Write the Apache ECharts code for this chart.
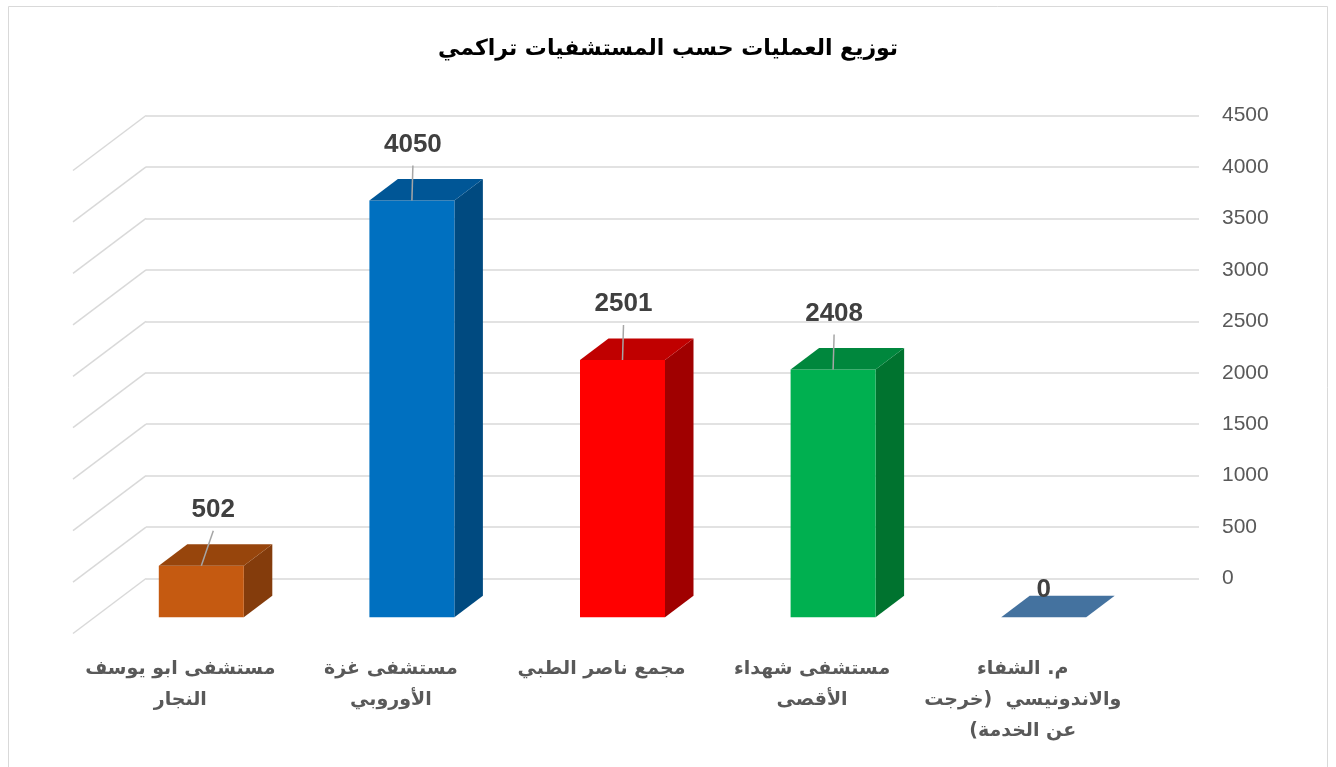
<!DOCTYPE html>
<html>
<head>
<meta charset="utf-8">
<script src="https://cdn.jsdelivr.net/npm/echarts@6/dist/echarts.min.js"></script>
<style>
html,body{margin:0;padding:0;background:#fff;}
#chart{width:1336px;height:767px;}
</style>
</head>
<body>
<div id="chart"></div>
<script>
// ---- data ----
const title = 'توزيع العمليات حسب المستشفيات تراكمي';
const categories = [
  'مستشفى ابو يوسف\nالنجار',
  'مستشفى غزة\nالأوروبي',
  'مجمع ناصر الطبي',
  'مستشفى شهداء\nالأقصى',
  'م. الشفاء\nوالاندونيسي  (خرجت\nعن الخدمة)'
];
const values = [502, 4050, 2501, 2408, 0];
const yTicks = [0, 500, 1000, 1500, 2000, 2500, 3000, 3500, 4000, 4500];
const frontColors = ['#C55A11', '#0070C0', '#FF0000', '#00B050', '#4F81BD'];
const topColors   = ['#97450C', '#005696', '#C00000', '#00873D', '#44729F'];
const sideColors  = ['#843C0C', '#004A80', '#A00000', '#00732F', '#3A6388'];

// ---- geometry (pixels) ----
const FRONT_DX = -50, FRONT_DY = 38.8;   // back wall -> bar front plane
const DEPTH_DX = 28.5, DEPTH_DY = -21.5; // bar depth
const WALL_DX = -73, WALL_DY = 55;       // side wall depth
const BAR_RATIO = 85 / 210.6;
const LABEL_DX = -71, LABEL_Y = 654;

// render each label line as a right-to-left paragraph
const RLM = '\u200F';
function rtlLines(s) {
  return s.split('\n').map(line => RLM + line + RLM).join('\n');
}

const chart = echarts.init(document.getElementById('chart'));

function renderBar(params, api) {
  const i = api.value(0), v = api.value(1);
  const top = api.coord([i, v]);
  const base = api.coord([i, 0]);
  const bw = api.size([1, 0])[0] * BAR_RATIO;
  const cx = top[0] + FRONT_DX;
  const x0 = cx - bw / 2, x1 = cx + bw / 2;
  const yT = top[1] + FRONT_DY, yB = base[1] + FRONT_DY;
  const children = [];
  if (yB - yT > 0.5) {
    children.push({type: 'polygon', shape: {points: [[x1, yT], [x1 + DEPTH_DX, yT + DEPTH_DY], [x1 + DEPTH_DX, yB + DEPTH_DY], [x1, yB]]}, style: {fill: sideColors[i]}});
    children.push({type: 'rect', shape: {x: x0, y: yT, width: bw, height: yB - yT}, style: {fill: frontColors[i]}});
  }
  children.push({type: 'polygon', shape: {points: [[x0, yT], [x0 + DEPTH_DX, yT + DEPTH_DY], [x1 + DEPTH_DX, yT + DEPTH_DY], [x1, yT]]}, style: {fill: topColors[i]}});
  const lblFont = 'bold 26px "Liberation Sans", Arial, sans-serif';
  if (v > 0) {
    const short = (yB - yT) < 80;
    const lx = short ? cx + 12 : cx + 1;
    children.push({type: 'line', shape: {x1: cx, y1: yT, x2: lx, y2: yT - 35}, style: {stroke: '#A6A6A6', lineWidth: 1.5}});
    children.push({type: 'text', style: {text: String(v), x: lx, y: yT - 56, align: 'center', verticalAlign: 'middle', font: lblFont, fill: '#404040'}});
  } else {
    children.push({type: 'text', style: {text: String(v), x: cx, y: yT - 27, align: 'center', verticalAlign: 'middle', font: lblFont, fill: '#404040'}});
  }
  const bc = api.coord([i, 0]);
  children.push({type: 'text', style: {text: rtlLines(categories[i]), x: bc[0] + LABEL_DX, y: LABEL_Y, align: 'center', verticalAlign: 'top', font: 'bold 19px "DejaVu Sans", sans-serif', lineHeight: 31, fill: '#595959'}});
  return {type: 'group', children: children};
}

function renderWall(params, api) {
  const p = api.coord([0, api.value(0)]);
  const x = params.coordSys.x;
  return {type: 'line', shape: {x1: x, y1: p[1], x2: x + WALL_DX, y2: p[1] + WALL_DY}, style: {stroke: '#D9D9D9', lineWidth: 1.5}};
}

chart.setOption({
  animation: false,
  backgroundColor: '#fff',
  title: {
    text: title, left: 'center', top: 33,
    textStyle: {fontFamily: '"DejaVu Sans", sans-serif', fontWeight: 'bold', fontSize: 22, color: '#000'}
  },
  graphic: [{type: 'rect', shape: {x: 8.5, y: 6.5, width: 1319, height: 800}, style: {fill: 'none', stroke: '#D9D9D9', lineWidth: 1}, silent: true}],
  grid: {left: 146, right: 137, top: 115.5, bottom: 188.5, containLabel: false},
  xAxis: {
    type: 'category', data: categories,
    axisLine: {show: false}, axisTick: {show: false}, axisLabel: {show: false}, splitLine: {show: false}
  },
  yAxis: {
    type: 'value', position: 'right', min: 0, max: 4500, interval: 500,
    axisLine: {show: false}, axisTick: {show: false},
    axisLabel: {margin: 23, color: '#595959', fontSize: 21, fontFamily: '"Liberation Sans", Arial, sans-serif', formatter: v => String(v)},
    splitLine: {lineStyle: {color: '#D9D9D9', width: 1.5}}
  },
  series: [
    {type: 'custom', renderItem: renderWall, data: yTicks.map(v => [v]), encode: {y: 0}, silent: true, z: 1},
    {type: 'custom', renderItem: renderBar, data: values.map((v, i) => [i, v]), encode: {x: 0, y: 1}, z: 2, clip: false}
  ]
});
</script>
</body>
</html>
